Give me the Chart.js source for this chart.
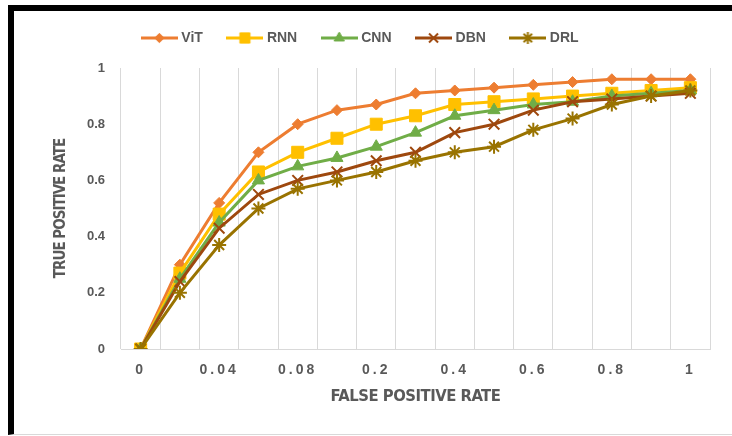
<!DOCTYPE html>
<html>
<head>
<meta charset="utf-8">
<script src="https://cdn.jsdelivr.net/npm/chart.js@4.4.0/dist/chart.umd.min.js"></script>
<style>
body { margin: 0; background: #fff; }
#frame { position: absolute; left: 8px; top: 5px; width: 730px; height: 423px;
  border-left: 6px solid #000; border-top: 6px solid #000; border-bottom: 1px solid #d9d9d9; }
#myChart { position: absolute; left: 0; top: 0; }
</style>
</head>
<body>
<div id="frame"></div>
<canvas id="myChart" width="732" height="436"></canvas>
<script>
// false positive rate categories (only every other one gets a label)
var fprLabels = ['0', '0.02', '0.04', '0.06', '0.08', '0.1', '0.2', '0.3', '0.4', '0.5', '0.6', '0.7', '0.8', '0.9', '1'];

// true positive rate for each model
var vit = [0, 0.30, 0.52, 0.70, 0.80, 0.85, 0.87, 0.91, 0.92, 0.93, 0.94, 0.95, 0.96, 0.96, 0.96];
var rnn = [0, 0.27, 0.48, 0.63, 0.70, 0.75, 0.80, 0.83, 0.87, 0.88, 0.89, 0.90, 0.91, 0.92, 0.93];
var cnn = [0, 0.25, 0.45, 0.60, 0.65, 0.68, 0.72, 0.77, 0.83, 0.85, 0.87, 0.88, 0.90, 0.91, 0.92];
var dbn = [0, 0.24, 0.43, 0.55, 0.60, 0.63, 0.67, 0.70, 0.77, 0.80, 0.85, 0.88, 0.89, 0.90, 0.91];
var drl = [0, 0.20, 0.37, 0.50, 0.57, 0.60, 0.63, 0.67, 0.70, 0.72, 0.78, 0.82, 0.87, 0.90, 0.92];

var seriesNames = ['ViT', 'RNN', 'CNN', 'DBN', 'DRL'];
var seriesColors = ['#ED7D31', '#FFC000', '#70AD47', '#9E480E', '#997300'];
var seriesData = [vit, rnn, cnn, dbn, drl];
var markers = ['rectRot', 'rect', 'triangle', 'crossRot', 'star'];
var markerSize = [5.5, 8.5, 7, 7.5, 7];
var markerLine = [1, 1, 1, 2, 2];

var grey = '#595959';
var narrow = "'Liberation Sans Narrow', 'DejaVu Sans Condensed', 'Liberation Sans', sans-serif";
var plain = "'Liberation Sans', Arial, sans-serif";

// little line + marker pictures for the legend
function drawMarker(g, style, r, x, y) {
  var d = r * Math.SQRT1_2;
  g.beginPath();
  if (style == 'rectRot') {
    g.moveTo(x, y - r); g.lineTo(x + r, y); g.lineTo(x, y + r); g.lineTo(x - r, y); g.closePath();
    g.fill(); g.stroke();
  } else if (style == 'rect') {
    g.rect(x - d, y - d, 2 * d, 2 * d); g.fill(); g.stroke();
  } else if (style == 'triangle') {
    g.moveTo(x, y - r); g.lineTo(x + r * 0.866, y + r / 2); g.lineTo(x - r * 0.866, y + r / 2); g.closePath();
    g.fill(); g.stroke();
  } else {
    g.moveTo(x - d, y - d); g.lineTo(x + d, y + d);
    g.moveTo(x - d, y + d); g.lineTo(x + d, y - d);
    if (style == 'star') {
      g.moveTo(x, y - r); g.lineTo(x, y + r);
      g.moveTo(x - r, y); g.lineTo(x + r, y);
    }
    g.stroke();
  }
}

var legendIcons = [];
for (var i = 0; i < seriesNames.length; i++) {
  var c = document.createElement('canvas');
  c.width = 37; c.height = 18;
  var g = c.getContext('2d');
  g.strokeStyle = seriesColors[i];
  g.fillStyle = seriesColors[i];
  g.lineWidth = 3;
  g.beginPath(); g.moveTo(0, 9); g.lineTo(37, 9); g.stroke();
  g.lineWidth = markerLine[i];
  drawMarker(g, markers[i], markerSize[i] * 0.85, 18.5, 9);
  legendIcons.push(c);
}

var datasets = [];
for (var i = 0; i < seriesNames.length; i++) {
  datasets.push({
    label: seriesNames[i],
    data: seriesData[i],
    borderColor: seriesColors[i],
    backgroundColor: seriesColors[i],
    borderWidth: 3,
    tension: 0,
    pointStyle: markers[i],
    pointRadius: markerSize[i],
    pointBorderWidth: markerLine[i],
    pointBackgroundColor: seriesColors[i],
    pointBorderColor: seriesColors[i],
    order: seriesNames.length - 1 - i   // later series on top, like Excel
  });
}

// push the plot down below the legend
var legendGap = {
  id: 'legendGap',
  beforeInit: function(chart) {
    if (!chart.legend) return;
    var fit = chart.legend.fit;
    chart.legend.fit = function() { fit.call(this); this.height += 13; };
  }
};

function withSpacing(sc, name, sp) {
  var orig = sc[name];
  sc[name] = function(a) {
    var ctx = this.ctx;
    ctx.save();
    ctx.letterSpacing = sp;
    orig.call(this, a);
    ctx.restore();
  };
}

// spaced out x tick labels, tighter axis titles
var spacedText = {
  id: 'spacedText',
  beforeDraw: function(chart) {
    if (chart._spaced) return;
    withSpacing(chart.scales.x, 'drawLabels', '3px');
    withSpacing(chart.scales.x, 'drawTitle', '-0.5px');
    withSpacing(chart.scales.y, 'drawTitle', '-1px');
    chart._spaced = true;
  }
};

var ctx = document.getElementById('myChart').getContext('2d');
var chart = new Chart(ctx, {
  type: 'line',
  data: { labels: fprLabels, datasets: datasets },
  plugins: [legendGap, spacedText],
  options: {
    responsive: false,
    animation: false,
    layout: { padding: { left: 13, right: 22, top: 4, bottom: 17 } },
    plugins: {
      tooltip: { enabled: false },
      legend: {
        position: 'top',
        labels: {
          usePointStyle: true,
          pointStyleWidth: 30,
          padding: 27,
          color: grey,
          font: { family: plain, size: 14, weight: 'bold' },
          generateLabels: function(chart) {
            return chart.data.datasets.map(function(ds, i) {
              return { text: ds.label, pointStyle: legendIcons[i], fontColor: grey,
                       datasetIndex: i, hidden: false, lineWidth: 0,
                       fillStyle: 'transparent', strokeStyle: 'transparent' };
            });
          }
        }
      }
    },
    scales: {
      x: {
        offset: true,
        afterFit: function(scale) { scale.height = 70; },
        grid: { offset: true, color: '#d9d9d9', drawTicks: false },
        border: { display: true, color: '#d9d9d9' },
        ticks: {
          autoSkip: false, maxRotation: 0, padding: 13, color: grey,
          font: { family: plain, size: 14, weight: 'bold' },
          callback: function(val, idx) { return idx % 2 == 0 ? fprLabels[idx] : ''; }
        },
        title: {
          display: true, text: 'FALSE POSITIVE RATE', color: grey,
          font: { family: narrow, size: 16.5, weight: 'bold' },
          padding: { top: 0, bottom: 12 }
        }
      },
      y: {
        min: 0, max: 1,
        afterFit: function(scale) { scale.width = 108; },
        grid: { display: false, drawTicks: false },
        border: { display: false },
        ticks: {
          stepSize: 0.2, padding: 16, color: grey,
          font: { family: plain, size: 13, weight: 'bold' },
          callback: function(val) { return String(Math.round(val * 10) / 10); }
        },
        title: {
          display: true, text: 'TRUE POSITIVE RATE', color: grey,
          font: { family: narrow, size: 15, weight: 'bold' },
          padding: { top: 39, bottom: 0 }
        }
      }
    }
  }
});
</script>
</body>
</html>
